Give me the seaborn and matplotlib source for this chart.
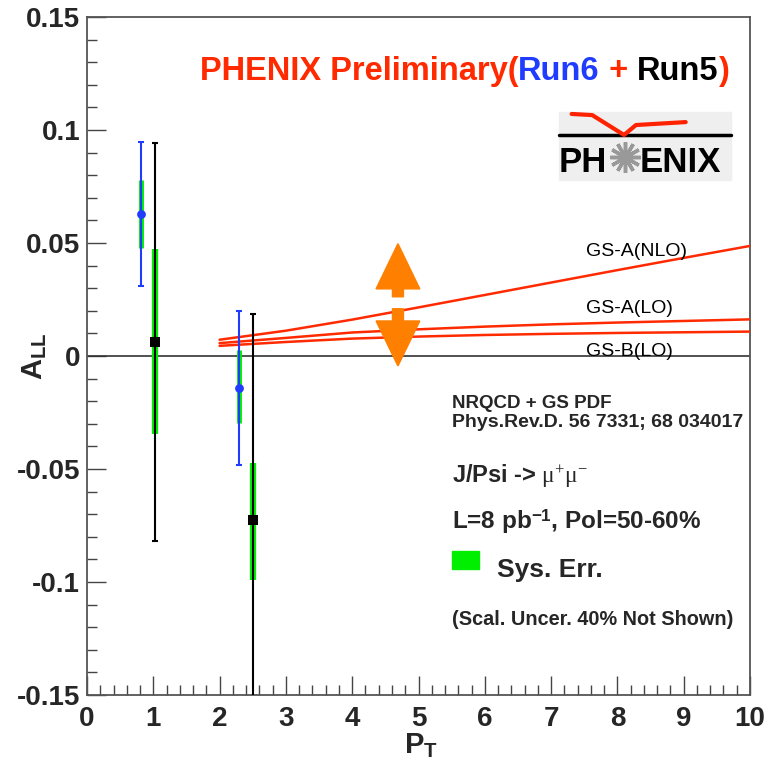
import numpy as np
import pandas as pd
import seaborn as sns
import matplotlib
matplotlib.use("Agg")
import matplotlib.pyplot as plt
from matplotlib.ticker import MultipleLocator, FuncFormatter
from matplotlib.patches import Rectangle, Polygon

# ---------------- data ----------------
run6_pt = [0.82, 2.30]
run6_all = [0.0628, -0.0143]
run6_stat = [0.032, 0.034]
run6_sys_center = [0.0628, -0.0135]
run6_sys = [0.015, 0.016]

run5_pt = [1.02, 2.50]
run5_all = [0.0063, -0.0726]
run5_stat = [0.088, 0.091]
run5_sys_center = [0.0063, -0.0732]
run5_sys = [0.041, 0.026]

curve_pt = [2, 3, 4, 5, 6, 7, 8, 9, 10]
gsa_nlo = [0.0072, 0.0112, 0.0161, 0.0215, 0.0270, 0.0325, 0.0380, 0.0434, 0.0487]
gsa_lo = [0.0057, 0.0080, 0.0104, 0.0118, 0.0130, 0.0140, 0.0148, 0.0155, 0.0162]
gsb_lo = [0.0045, 0.0062, 0.0077, 0.0086, 0.0093, 0.0098, 0.0102, 0.0105, 0.0108]
curve_names = ["GS-A(NLO)", "GS-A(LO)", "GS-B(LO)"]

x_ticks = [0, 1, 2, 3, 4, 5, 6, 7, 8, 9, 10]
y_ticks = [-0.15, -0.1, -0.05, 0, 0.05, 0.1, 0.15]

# ---------------- style ----------------
sns.set_style("white")
plt.rcParams["font.family"] = ["Liberation Sans", "DejaVu Sans"]
plt.rcParams["mathtext.fontset"] = "custom"
plt.rcParams["mathtext.rm"] = "Liberation Serif"
plt.rcParams["mathtext.it"] = "Liberation Serif:italic"
plt.rcParams["mathtext.bf"] = "Liberation Sans:bold"
plt.rcParams["mathtext.sf"] = "Liberation Sans"

RED = "#ff2a00"
BLUE = "#1f3cff"
GREEN = "#00ee00"
ORANGE = "#ff8000"

fig = plt.figure(figsize=(7.76, 7.67), dpi=100)
fig.patch.set_facecolor("white")
W, H = 776, 767
ax = fig.add_axes([87 / W, 1 - 695 / H, (750 - 87) / W, (695 - 17) / H])
ax.set_facecolor("white")

# theory curves
df_c = pd.DataFrame({
    "pt": curve_pt * 3,
    "all": gsa_nlo + gsa_lo + gsb_lo,
    "model": sum([[n] * len(curve_pt) for n in curve_names], []),
})
sns.lineplot(data=df_c, x="pt", y="all", hue="model", palette=[RED] * 3,
             legend=False, linewidth=1.8, ax=ax, zorder=3)

ax.axhline(0, color="#333333", lw=1.2, zorder=2)

# systematic bands
ax.vlines(run6_pt, np.array(run6_sys_center) - np.array(run6_sys),
          np.array(run6_sys_center) + np.array(run6_sys), color=GREEN, lw=3.5, zorder=4)
ax.vlines(run5_pt, np.array(run5_sys_center) - np.array(run5_sys),
          np.array(run5_sys_center) + np.array(run5_sys), color=GREEN, lw=4.5, zorder=4)

# stat error bars
ax.errorbar(run6_pt, run6_all, yerr=run6_stat, fmt="none", ecolor=BLUE,
            elinewidth=1.5, capsize=2, capthick=1.5, zorder=5)
ax.errorbar(run5_pt, run5_all, yerr=run5_stat, fmt="none", ecolor="black",
            elinewidth=1.5, capsize=2, capthick=1.5, zorder=5)

df6 = pd.DataFrame({"pt": run6_pt, "all": run6_all})
df5 = pd.DataFrame({"pt": run5_pt, "all": run5_all})
sns.scatterplot(data=df6, x="pt", y="all", marker="o", s=40, color=BLUE,
                edgecolor=BLUE, linewidth=0, ax=ax, zorder=6)
sns.scatterplot(data=df5, x="pt", y="all", marker="s", s=45, color="black",
                edgecolor="black", linewidth=0, ax=ax, zorder=6)

# axes
ax.set_xlim(0, 10)
ax.set_ylim(-0.15, 0.15)
ax.set_xticks(x_ticks)
ax.set_yticks(y_ticks)
ax.xaxis.set_minor_locator(MultipleLocator(0.2))
ax.yaxis.set_minor_locator(MultipleLocator(0.01))
ax.yaxis.set_major_formatter(FuncFormatter(lambda v, p: "0" if abs(v) < 1e-9 else f"{v:g}"))
ax.xaxis.set_major_formatter(FuncFormatter(lambda v, p: f"{v:g}"))
ax.tick_params(axis="both", which="major", direction="in", length=14, width=1,
               color="#444444", labelsize=20, top=False, right=False,
               bottom=True, left=True)
ax.tick_params(axis="both", which="minor", direction="in", length=7, width=1,
               color="#444444", top=False, right=False, bottom=True, left=True)
ax.tick_params(axis="x", which="major", pad=8)
ax.tick_params(axis="y", which="major", pad=5)
for lab in ax.get_xticklabels() + ax.get_yticklabels():
    lab.set_fontweight("bold")
for s in ax.spines.values():
    s.set_color("#555555")
    s.set_linewidth(1.3)
    s.set_visible(True)

ax.set_xlabel(r"$\mathbf{P}_{\mathbf{T}}$", fontsize=21)
ax.set_ylabel(r"$\mathbf{A}_{\mathbf{LL}}$", fontsize=21)
ax.xaxis.set_label_coords(0.504, -0.055)
ax.yaxis.set_label_coords(-0.058, 0.5)

# title (multi-coloured)
TS = 23.5
t1 = ax.text(1.70, 0.1221, "PHENIX Preliminary(", color=RED, fontsize=TS,
             fontweight="bold", va="baseline", ha="left")
t2 = ax.annotate("Run6", xy=(1, 0), xycoords=t1, color=BLUE, fontsize=TS,
                 fontweight="bold", va="bottom", ha="left")
t3 = ax.annotate(" + ", xy=(1, 0), xycoords=t2, color=RED, fontsize=TS,
                 fontweight="bold", va="bottom", ha="left")
t4 = ax.annotate("Run5", xy=(1, 0), xycoords=t3, color="black", fontsize=TS,
                 fontweight="bold", va="bottom", ha="left")
t5 = ax.annotate(")", xy=(1, 0), xycoords=t4, color=RED, fontsize=TS,
                 fontweight="bold", va="bottom", ha="left")

# curve labels
for name, yb in zip(curve_names, [0.0442, 0.0190, 0.0000]):
    ax.text(7.53, yb, name, fontsize=14, va="baseline", ha="left", color="black")

# info text
ax.text(5.51, -0.0228, "NRQCD + GS PDF", fontsize=13.5, fontweight="bold", va="baseline")
ax.text(5.51, -0.0313, "Phys.Rev.D. 56 7331; 68 034017", fontsize=14,
        fontweight="bold", va="baseline")
ax.text(5.51, -0.0557, r"J/Psi -> $\mathrm{\mu}^{+}\mathrm{\mu}^{-}$", fontsize=17,
        fontweight="bold", va="baseline")
ax.text(5.51, -0.0763, r"L=8 pb$^{\mathbf{-1}}$, Pol=50-60%", fontsize=17.5,
        fontweight="bold", va="baseline")
ax.add_patch(Rectangle((5.51, -0.0944), 0.41, 0.0083, color=GREEN, zorder=5))
ax.text(6.19, -0.0980, "Sys. Err.", fontsize=19, fontweight="bold", va="baseline")
ax.text(5.51, -0.1190, "(Scal. Uncer. 40% Not Shown)", fontsize=14.3,
        fontweight="bold", va="baseline")

# orange double arrow
xc, hw, sw = 4.69, 0.33, 0.083
ax.add_patch(Polygon([(xc, 0.0497), (xc - hw, 0.0297), (xc - sw, 0.0297), (xc - sw, 0.0262),
                      (xc + sw, 0.0262), (xc + sw, 0.0297), (xc + hw, 0.0297)],
                     closed=True, color=ORANGE, zorder=7))
ax.add_patch(Polygon([(xc, -0.0044), (xc - hw, 0.0155), (xc - sw, 0.0155), (xc - sw, 0.0209),
                      (xc + sw, 0.0209), (xc + sw, 0.0155), (xc + hw, 0.0155)],
                     closed=True, color=ORANGE, zorder=7))

# PHENIX logo
ax.add_patch(Rectangle((7.12, 0.0779), 2.59, 0.0300, color="#efefef", zorder=1))
ax.plot([7.12, 9.71], [0.0978, 0.0978], color="black", lw=2.5, zorder=2)
ax.plot([7.31, 7.62, 8.10, 8.28, 9.03], [0.1071, 0.1066, 0.0978, 0.1022, 0.1035],
        color="#ff2200", lw=3, zorder=3, solid_joinstyle="round")
ax.text(7.12, 0.0815, "PH", fontsize=25, fontweight="bold", va="baseline",
        ha="left", color="black", zorder=3)
ax.text(8.33, 0.0815, "ENIX", fontsize=25, fontweight="bold", va="baseline",
        ha="left", color="black", zorder=3)
ax.plot([8.12], [0.0880], marker=(12, 2, 0), markersize=22, color="#999999",
        markeredgewidth=2.5, zorder=3)
ax.plot([8.12], [0.0880], marker="o", markersize=5, color="#999999", zorder=3)

fig.savefig("out.png", dpi=100, facecolor="white")
